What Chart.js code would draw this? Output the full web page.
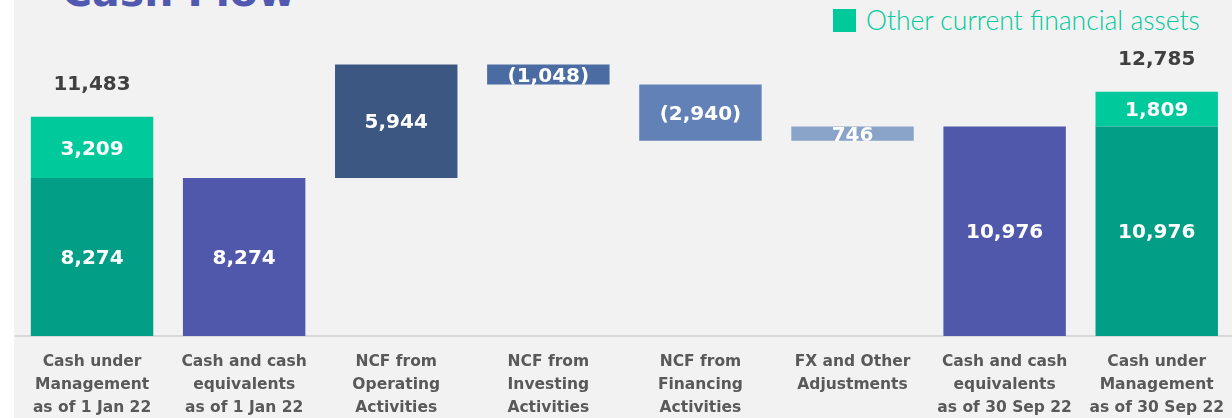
<!DOCTYPE html>
<html>
<head>
<meta charset="utf-8">
<script src="https://cdn.jsdelivr.net/npm/chart.js@4.4.0/dist/chart.umd.min.js"></script>
<style>
  html, body { margin: 0; padding: 0; background: #fff; overflow: hidden; }
  #panel { position: absolute; left: 14px; top: 0; width: 1218px; height: 418px; background: #f2f2f2; overflow: hidden; }
  #title { position: absolute; left: 48px; top: -28px; font: bold 41px/41px "DejaVu Sans"; color: #5058b0; white-space: nowrap; }
  #legend { position: absolute; left: 833px; top: 9px; height: 23px; white-space: nowrap; }
  #legend .box { display: inline-block; width: 23px; height: 23px; background: #00c99b; vertical-align: top; }
  #legend .txt { display: inline-block; margin-left: 10px; font: 300 26.5px/23px "Lato"; color: #00c99b; vertical-align: top; }
  #clip { position: absolute; left: 0; top: 0; width: 1232px; height: 418px; overflow: hidden; }
  #chartBox { position: absolute; left: 0; top: 0; width: 1238px; height: 418px; }
</style>
</head>
<body>
<div id="panel">
  <div id="title">Cash Flow</div>
</div>
<div id="legend"><span class="box"></span><span class="txt">Other current financial assets</span></div>
<div id="clip"><div id="chartBox"><canvas id="cashChart"></canvas></div></div>
<script>
// categories (multi-line axis labels)
const categories = [
    ['Cash under', 'Management', 'as of 1 Jan 22'],
    ['Cash and cash', 'equivalents', 'as of 1 Jan 22'],
    ['NCF from', 'Operating', 'Activities'],
    ['NCF from', 'Investing', 'Activities'],
    ['NCF from', 'Financing', 'Activities'],
    ['FX and Other', 'Adjustments'],
    ['Cash and cash', 'equivalents', 'as of 30 Sep 22'],
    ['Cash under', 'Management', 'as of 30 Sep 22']
];
// balances standing on the baseline
const cashEquivalents = [8274, 8274, null, null, null, null, 10976, 10976];
// movements of the waterfall
const cashFlows = [null, null, 5944, -1048, -2940, 746, null, null];
// other current financial assets on top of the balances
const otherAssets = [3209, null, null, null, null, null, null, 1809];

const barColors = ['#029e86', '#5058ab', '#3d5783', '#4a6ca3', '#6282b7', '#89a3c9', '#5058ab', '#029e86'];

// build floating ranges for the waterfall
let running = 0;
const mainRanges = categories.map((c, i) => {
    if (cashEquivalents[i] !== null) { running = cashEquivalents[i]; return [0, cashEquivalents[i]]; }
    const start = running; running += cashFlows[i];
    return [start, running];
});
const otherRanges = otherAssets.map((v, i) => v === null ? null : [cashEquivalents[i], cashEquivalents[i] + v]);

const fmt = v => v < 0 ? '(' + Math.abs(v).toLocaleString('en-US') + ')' : v.toLocaleString('en-US');

const valueLabels = {
    id: 'valueLabels',
    afterDatasetsDraw(chart) {
        const ctx = chart.ctx;
        ctx.save();
        ctx.textAlign = 'center';
        ctx.textBaseline = 'middle';
        ctx.font = 'bold 20px "DejaVu Sans"';
        chart.data.datasets.forEach((ds, di) => {
            chart.getDatasetMeta(di).data.forEach((el, i) => {
                if (ds.data[i] === null) return;
                const { x, y, base } = el.getProps(['x', 'y', 'base'], true);
                let v = di === 1 ? otherAssets[i] : (cashEquivalents[i] !== null ? cashEquivalents[i] : cashFlows[i]);
                ctx.fillStyle = '#ffffff';
                ctx.fillText(fmt(v), x, (y + base) / 2 + 2);
                if (di === 1) {
                    ctx.fillStyle = '#404040';
                    ctx.fillText(fmt(cashEquivalents[i] + otherAssets[i]), x, Math.min(y, base) - 32);
                }
            });
        });
        ctx.restore();
    }
};

new Chart(document.getElementById('cashChart'), {
    type: 'bar',
    data: {
        labels: categories,
        datasets: [
            { label: 'Cash', data: mainRanges, backgroundColor: barColors, grouped: false,
              barPercentage: 0.805, categoryPercentage: 1 },
            { label: 'Other current financial assets', data: otherRanges, backgroundColor: '#00c99b', grouped: false,
              barPercentage: 0.805, categoryPercentage: 1 }
        ]
    },
    options: {
        responsive: true, maintainAspectRatio: false, animation: false,
        layout: { padding: { left: 16, right: 0, top: 0, bottom: 0 } },
        plugins: { legend: { display: false }, tooltip: { enabled: false } },
        scales: {
            x: {
                grid: { color: 'transparent', drawTicks: false },
                border: { display: true, color: '#d9d9d9', width: 2 },
                ticks: { color: '#595959', padding: 14, autoSkip: false, maxRotation: 0,
                         font: { family: 'DejaVu Sans', weight: 'bold', size: 15.5, lineHeight: '23px' } },
                afterFit(scale) { scale.height = 82; }
            },
            y: { display: false, min: 0, max: 17594 }
        }
    },
    plugins: [valueLabels]
});
</script>
</body>
</html>
